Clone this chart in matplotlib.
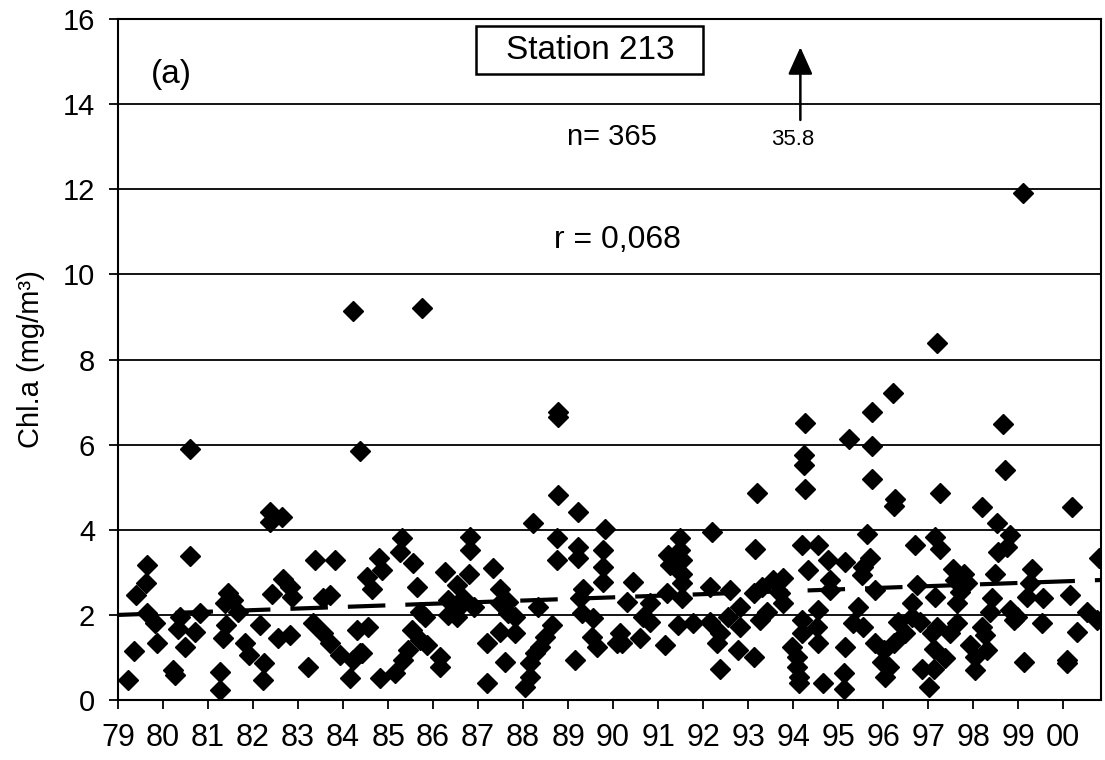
import matplotlib.pyplot as plt
from matplotlib.patches import Rectangle

plt.rcParams['font.family'] = ['Liberation Sans', 'DejaVu Sans']

# Chl.a samples at station 213.
# year is a two-digit decimal year (100 = 2000)
year_79_84 = [82.38, 82.38, 82.64, 79.64, 80.60, 79.62, 79.40, 83.38, 83.82, 82.67,
              82.82, 82.86, 82.43, 81.45, 81.56, 81.38, 81.67, 83.56, 83.71, 79.64,
              79.82, 80.38, 80.34, 80.82, 80.71, 79.86, 80.49, 79.36, 79.23, 80.23,
              80.27, 81.41, 81.34, 81.82, 81.90, 81.27, 81.27, 82.16, 82.24, 82.23,
              82.56, 82.82, 83.34, 83.56, 83.71, 83.93, 83.23, 84.16, 84.30, 84.23,
              84.38]
chla_79_84 = [4.42, 4.19, 4.29, 3.17, 3.38, 2.76, 2.47, 3.29, 3.29, 2.84,
              2.66, 2.43, 2.49, 2.51, 2.35, 2.27, 2.08, 2.39, 2.47, 2.04,
              1.80, 1.96, 1.68, 2.04, 1.60, 1.35, 1.25, 1.15, 0.47, 0.70,
              0.59, 1.76, 1.45, 1.33, 1.06, 0.67, 0.23, 1.76, 0.86, 0.47,
              1.45, 1.53, 1.80, 1.57, 1.33, 1.06, 0.78, 0.51, 1.64, 0.94,
              1.10]

year_84_90 = [88.78, 89.23, 88.23, 89.82, 85.30, 85.27, 86.82, 86.82, 84.79, 85.56,
              88.75, 88.75, 89.23, 89.23, 89.78, 89.78, 89.78, 84.53, 84.86, 84.64,
              86.27, 86.79, 87.34, 85.64, 86.53, 87.49, 89.34, 86.34, 86.67, 86.53,
              86.90, 86.34, 86.53, 85.82, 85.71, 87.49, 87.67, 87.67, 87.82, 88.34,
              89.27, 89.30, 89.56, 84.56, 84.41, 85.53, 85.71, 85.86, 85.45, 85.34,
              85.16, 84.82, 86.16, 86.16, 87.19, 87.49, 87.82, 87.60, 87.19, 88.64,
              88.49, 88.38, 88.27, 88.16, 88.16, 88.04, 89.16, 89.53, 89.64, 90.08]
chla_84_90 = [4.82, 4.42, 4.15, 4.03, 3.80, 3.48, 3.84, 3.52, 3.33, 3.21,
              3.80, 3.29, 3.60, 3.33, 3.52, 3.13, 2.78, 2.90, 3.05, 2.62,
              3.01, 2.97, 3.11, 2.66, 2.70, 2.62, 2.62, 2.35, 2.39, 2.15,
              2.19, 2.00, 1.96, 1.96, 2.08, 2.27, 2.31, 2.04, 1.96, 2.19,
              2.39, 2.04, 1.92, 1.72, 1.10, 1.64, 1.41, 1.29, 1.17, 0.94,
              0.63, 0.51, 1.02, 0.78, 1.33, 1.60, 1.57, 0.90, 0.39, 1.76,
              1.49, 1.25, 1.10, 0.86, 0.55, 0.31, 0.94, 1.49, 1.25, 1.33]

year_90_95 = [93.19, 94.27, 92.19, 93.16, 91.49, 91.49, 91.23, 91.53, 91.27, 91.53,
              91.53, 90.45, 92.16, 92.60, 94.19, 94.56, 94.34, 94.78, 95.16, 95.56,
              94.82, 94.82, 93.56, 93.78, 93.30, 93.12, 93.71, 93.78, 91.19, 90.82,
              90.30, 91.53, 90.67, 90.82, 90.16, 90.19, 90.60, 91.16, 91.45, 91.78,
              92.16, 92.56, 92.82, 92.82, 92.38, 92.30, 92.78, 93.12, 92.38, 93.27,
              93.41, 94.19, 94.56, 94.52, 94.19, 94.56, 93.97, 94.08, 94.08, 94.12,
              94.12, 94.67, 95.12, 95.12, 95.16, 95.45, 95.34, 95.56, 95.64]
chla_90_95 = [4.86, 4.96, 3.95, 3.56, 3.80, 3.52, 3.41, 3.29, 3.17, 2.97,
              2.74, 2.78, 2.66, 2.58, 3.64, 3.64, 3.05, 3.29, 3.25, 3.13,
              2.82, 2.58, 2.82, 2.86, 2.66, 2.51, 2.51, 2.27, 2.51, 2.27,
              2.31, 2.39, 1.96, 1.84, 1.57, 1.33, 1.45, 1.29, 1.76, 1.80,
              1.84, 1.96, 2.19, 1.72, 1.57, 1.33, 1.17, 1.02, 0.74, 1.88,
              2.08, 1.88, 2.11, 1.72, 1.57, 1.33, 1.25, 1.02, 0.78, 0.55,
              0.39, 0.39, 0.63, 0.27, 1.25, 2.19, 1.80, 1.72, 3.91]

year_95_00 = [95.76, 96.27, 96.23, 97.27, 98.19, 100.19, 98.53, 98.82, 96.71, 97.16,
              97.27, 98.56, 98.75, 100.79, 95.71, 95.52, 97.56, 97.79, 97.60, 97.86,
              97.71, 98.49, 99.30, 99.27, 99.19, 99.56, 100.16, 95.82, 96.75, 97.16,
              98.41, 96.64, 97.64, 98.38, 98.82, 98.97, 100.53, 100.75, 96.34, 96.64,
              96.82, 96.49, 97.19, 97.64, 98.19, 98.90, 99.53, 100.30, 97.08, 97.49,
              95.82, 96.23, 96.01, 97.12, 97.94, 98.27, 98.30, 98.04, 97.38, 95.97,
              96.12, 96.04, 96.86, 97.12, 97.01, 98.04, 99.12, 100.08, 100.08]
chla_95_00 = [5.20, 4.72, 4.56, 4.86, 4.54, 4.54, 4.15, 3.88, 3.64, 3.84,
              3.56, 3.48, 3.60, 3.33, 3.33, 2.94, 3.09, 2.97, 2.82, 2.74,
              2.54, 2.97, 3.09, 2.74, 2.43, 2.39, 2.47, 2.58, 2.70, 2.43,
              2.39, 2.27, 2.27, 2.08, 2.11, 1.96, 2.08, 1.88, 1.84, 1.96,
              1.84, 1.57, 1.72, 1.80, 1.72, 1.88, 1.80, 1.60, 1.57, 1.57,
              1.33, 1.33, 1.17, 1.21, 1.29, 1.53, 1.17, 1.02, 0.98, 0.90,
              0.78, 0.55, 0.74, 0.74, 0.31, 0.70, 0.90, 0.86, 0.94]

# isolated high values
year_high = [99.11, 84.22, 85.75, 97.19, 88.78, 88.78, 96.22, 95.76, 94.27, 98.66,
             80.59, 84.37, 95.24, 95.76, 94.24, 94.24, 98.71]
chla_high = [11.92, 9.15, 9.20, 8.40, 6.77, 6.64, 7.22, 6.77, 6.52, 6.49,
             5.89, 5.86, 6.13, 5.97, 5.76, 5.52, 5.40]

# regression line end points
trend_year = [79, 100.84]
trend_chla = [2.0, 2.82]

tick_years = list(range(79, 101))
tick_labels = ['%02d' % (y % 100) for y in tick_years]

fig = plt.figure(figsize=(11.05, 7.6), dpi=100)
ax = fig.add_axes([0.1068, 0.0789, 0.8896, 0.896])

for xs, ys in [(year_79_84, chla_79_84), (year_84_90, chla_84_90),
               (year_90_95, chla_90_95), (year_95_00, chla_95_00),
               (year_high, chla_high)]:
    ax.plot(xs, ys, 'D', ms=10.5, color='black', ls='none', zorder=3)

ax.plot(trend_year, trend_chla, color='black', lw=3,
        ls=(0, (9, 4.8)), zorder=4)

ax.set_xlim(79, 100.84)
ax.set_ylim(0, 16)
ax.set_xticks(tick_years)
ax.set_xticklabels(tick_labels)
ax.set_yticks(range(0, 17, 2))
ax.yaxis.grid(True, color='black', lw=1.3)
ax.set_axisbelow(True)
for s in ax.spines.values():
    s.set_linewidth(1.5)
ax.tick_params(direction='out', length=6.5, width=1.3, color='black', pad=10)
ax.tick_params(axis='x', labelsize=22)
ax.tick_params(axis='y', labelsize=21)

ax.set_ylabel('Chl.a (mg/m³)', fontsize=21)
ax.yaxis.set_label_coords(-0.074, 0.5)

ax.text(80.18, 14.5, '(a)', fontsize=24, ha='center', va='baseline')
ax.add_patch(Rectangle((0.364, 0.919), 0.231, 0.071, transform=ax.transAxes,
                       fill=False, lw=1.8, color='black', zorder=5))
ax.text(89.49, 15.27, 'Station 213', fontsize=24, ha='center', va='center')
ax.text(89.98, 13.04, 'n= 365', fontsize=21, ha='center', va='baseline')
ax.text(94.0, 13.04, '35.8', fontsize=16, ha='center', va='baseline')
ax.text(90.1, 10.62, 'r = 0,068', fontsize=23, ha='center', va='baseline')
ax.annotate('', xy=(94.16, 15.34), xytext=(94.16, 13.63),
            arrowprops=dict(arrowstyle='-|>,head_length=0.6,head_width=0.27',
                            color='black', lw=1.8, mutation_scale=28,
                            shrinkA=0, shrinkB=0))

plt.savefig('out.png', dpi=100)
